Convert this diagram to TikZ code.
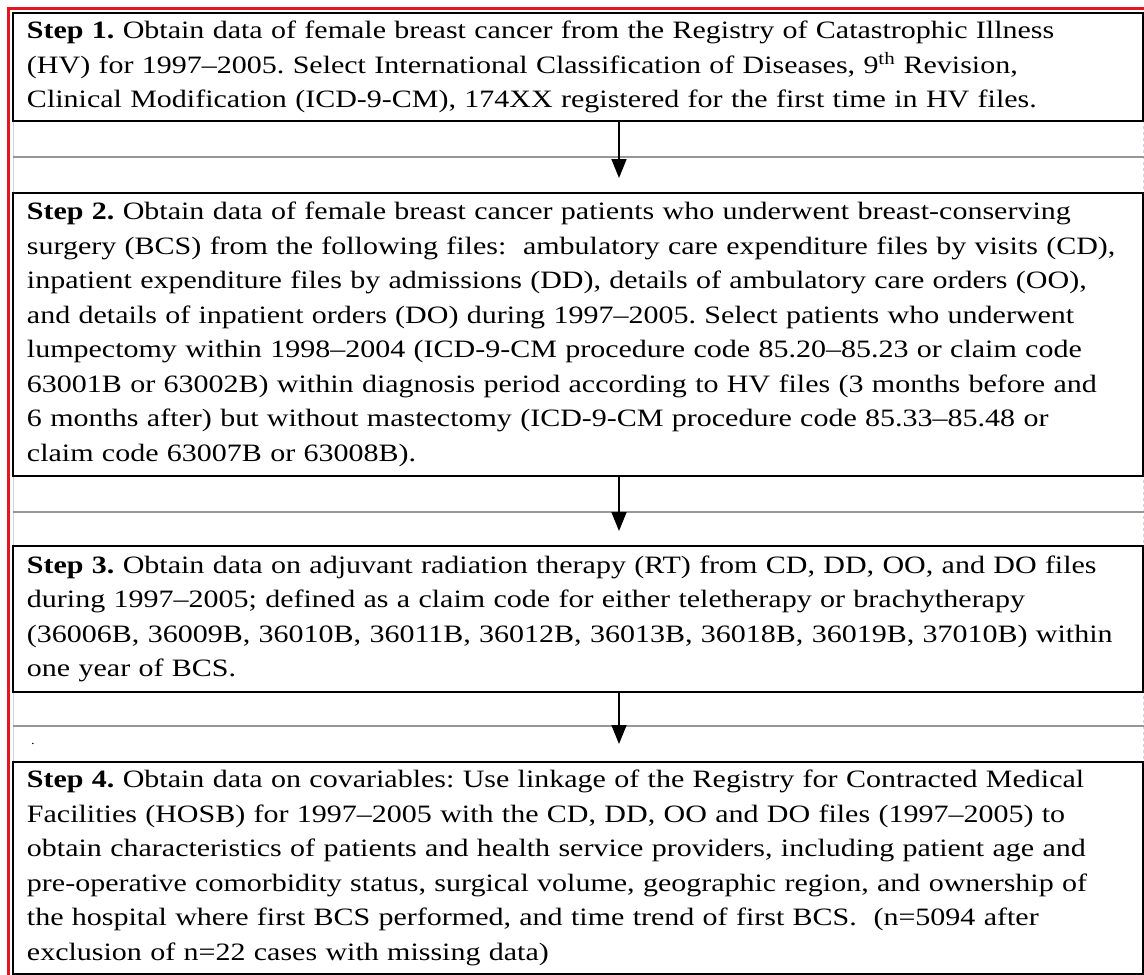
\documentclass[tikz,border=0pt]{standalone}
\usepackage{fontspec}
\setmainfont[FakeStretch=1.2]{Liberation Serif}
\frenchspacing
\usetikzlibrary{arrows.meta}

\definecolor{framered}{RGB}{225,25,30}
\definecolor{rulegray}{RGB}{150,150,150}
\definecolor{edgegray}{RGB}{205,212,222}

\begin{document}
\begin{tikzpicture}[x=1pt,y=-1pt,
    stepbox/.style={draw,line width=2pt,anchor=north west,minimum width=1130pt,
      text width=1102pt,inner xsep=14pt,inner ysep=0pt,align=left,
      font=\fontsize{25}{34.5}\selectfont},
    sep/.style={rulegray,line width=1.3pt},
    flow/.style={line width=1.6pt,-{Triangle[width=15pt,length=19pt]}}]

\useasboundingbox (0,0) rectangle (1144,975);

% faint frame of the table behind the boxes
\draw[edgegray,line width=1pt] (13,12) -- (13,973);
\draw[edgegray,line width=1pt,dashed] (1143,12) -- (1143,973);

% rules between the steps
\foreach \y in {157,512,726}
  \draw[sep] (13,\y) -- (1144,\y);

\node[stepbox,minimum height=108pt] (step1) at (12,12)
  {\textbf{Step 1.} Obtain data of female breast cancer from the Registry of Catastrophic Illness\\
   (HV) for 1997–2005. Select International Classification of Diseases, 9\textsuperscript{th} Revision,\\
   Clinical Modification (ICD-9-CM), 174XX registered for the first time in HV files.};

\node[stepbox,minimum height=283pt] (step2) at (12,192)
  {\textbf{Step 2.} Obtain data of female breast cancer patients who underwent breast-conserving\\
   surgery (BCS) from the following files:~ ambulatory care expenditure files by visits (CD),\\
   inpatient expenditure files by admissions (DD), details of ambulatory care orders (OO),\\
   and details of inpatient orders (DO) during 1997–2005. Select patients who underwent\\
   lumpectomy within 1998–2004 (ICD-9-CM procedure code 85.20–85.23 or claim code\\
   63001B or 63002B) within diagnosis period according to HV files (3 months before and\\
   6 months after) but without mastectomy (ICD-9-CM procedure code 85.33–85.48 or\\
   claim code 63007B or 63008B).};

\node[stepbox,minimum height=146pt] (step3) at (12,545)
  {\textbf{Step 3.} Obtain data on adjuvant radiation therapy (RT) from CD, DD, OO, and DO files\\
   during 1997–2005; defined as a claim code for either teletherapy or brachytherapy\\
   (36006B, 36009B, 36010B, 36011B, 36012B, 36013B, 36018B, 36019B, 37010B) within\\
   one year of BCS.};

\node[stepbox,minimum height=212pt] (step4) at (12,761)
  {\textbf{Step 4.} Obtain data on covariables: Use linkage of the Registry for Contracted Medical\\
   Facilities (HOSB) for 1997–2005 with the CD, DD, OO and DO files (1997–2005) to\\
   obtain characteristics of patients and health service providers, including patient age and\\
   pre-operative comorbidity status, surgical volume, geographic region, and ownership of\\
   the hospital where first BCS performed, and time trend of first BCS.~ (n=5094 after\\
   exclusion of n=22 cases with missing data)};

\node[font=\fontsize{12}{12}\selectfont] (dot) at (33,744) {.};

% arrows between the steps
\coordinate (axis) at (619,0);
\draw[flow] (step1.south -| axis) -- ([yshift=14pt]step2.north -| axis);
\draw[flow] (step2.south -| axis) -- ([yshift=14pt]step3.north -| axis);
\draw[flow] (step3.south -| axis) -- ([yshift=17pt]step4.north -| axis);

% red outer frame
\draw[framered,line width=3pt] (8,975) -- (8,8) -- (1144,8);
\end{tikzpicture}
\end{document}
